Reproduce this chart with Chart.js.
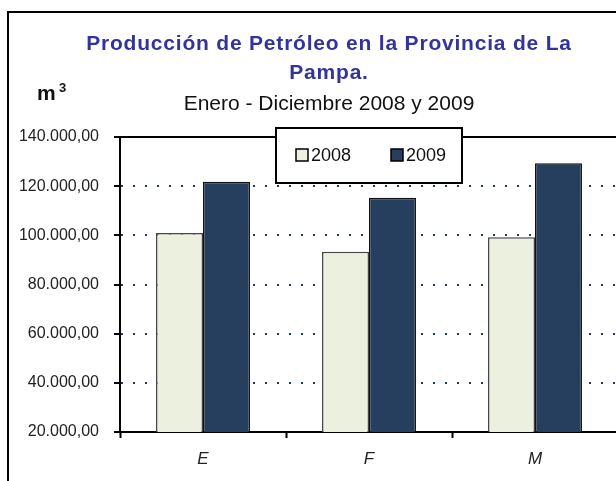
<!DOCTYPE html>
<html lang="es">
<head>
    <meta charset="UTF-8">
    <title>Producción de Petróleo - La Pampa</title>
    <script src="https://cdn.jsdelivr.net/npm/chart.js"></script>
    <style type="text/css">
    body {
    margin: 0;
    padding: 0;
    background: #fff;
    overflow: hidden;
    }
    #wrap {
    width: 620px;
    height: 481px;
    }
    </style>
</head>
<body>
<div id="wrap"><canvas id="chart" width="620" height="481"></canvas></div>

<script>
// data
const months = ['E', 'F', 'M'];
const years = ['2008', '2009'];
const prod2008 = [101000, 93300, 99200];
const prod2009 = [121800, 115300, 129300];
const yMin = 20000;
const yMax = 140000;
const yStep = 20000;
const titleLines = ['Producción de Petróleo en la Provincia de La', 'Pampa.'];
const subtitle = 'Enero - Diciembre 2008 y 2009';
const unitLabel = 'm';
const unitSup = '3';

const FONT = 'Arial, "Liberation Sans", sans-serif';

// 140000 -> 140.000,00
function fmtNum(v) {
    const s = Math.round(v).toString().replace(/\B(?=(\d{3})+(?!\d))/g, '.');
    return s + ',00';
}

const framePlugin = {
    id: 'frame',
    afterDraw(chart) {
        const c = chart.ctx;
        const a = chart.chartArea;
        c.save();
        c.strokeStyle = '#000';
        c.lineWidth = 2;

        // outer frame (left and top only, the rest is cut off)
        c.beginPath();
        c.moveTo(8, chart.height);
        c.lineTo(8, 12);
        c.lineTo(chart.width, 12);
        c.stroke();

        // top edge of plot area
        c.beginPath();
        c.moveTo(a.left, a.top);
        c.lineTo(a.right, a.top);
        c.stroke();

        // title
        c.textAlign = 'center';
        c.textBaseline = 'alphabetic';
        c.fillStyle = '#33339c';
        c.font = 'bold 21px ' + FONT;
        c.letterSpacing = '0.8px';
        c.fillText(titleLines[0], 329, 50);
        c.fillText(titleLines[1], 329, 79);
        c.letterSpacing = '0px';

        c.fillStyle = '#111';
        c.font = '21px ' + FONT;
        c.fillText(subtitle, 329, 110, 294);

        // m3
        c.textAlign = 'left';
        c.font = 'bold 21px ' + FONT;
        c.fillText(unitLabel, 37, 100);
        c.font = 'bold 13px ' + FONT;
        c.fillText(unitSup, 59, 92);

        // legend box
        const cx = (a.left + a.right) / 2;
        const bw = 186, bh = 55;
        const bx = cx - bw / 2, by = 128;
        c.fillStyle = '#fff';
        c.fillRect(bx, by, bw, bh);
        c.strokeRect(bx, by, bw, bh);

        c.font = '18px ' + FONT;
        c.textBaseline = 'middle';
        chart.data.datasets.forEach((ds, i) => {
            const sx = bx + 20 + i * 95;
            const sy = by + 21;
            c.fillStyle = ds.backgroundColor;
            c.fillRect(sx, sy, 12, 12);
            c.lineWidth = 1.5;
            c.strokeStyle = '#000';
            c.strokeRect(sx, sy, 12, 12);
            c.fillStyle = '#111';
            c.fillText(ds.label, sx + 15, sy + 7);
        });
        c.restore();
    }
};

const ctx = document.getElementById('chart').getContext('2d');

new Chart(ctx, {
    type: 'bar',
    data: {
        labels: months,
        datasets: [{
            label: years[0],
            data: prod2008,
            backgroundColor: '#ebf1de',
            borderColor: '#444',
            borderWidth: 1.5,
            categoryPercentage: 0.566,
            barPercentage: 1
        }, {
            label: years[1],
            data: prod2009,
            backgroundColor: '#263f5f',
            borderColor: '#111',
            borderWidth: 1.5,
            categoryPercentage: 0.566,
            barPercentage: 1
        }]
    },
    options: {
        responsive: false,
        animation: false,
        layout: {
            padding: { top: 137, left: 0, right: 2, bottom: 0 }
        },
        plugins: {
            legend: { display: false },
            title: { display: false },
            tooltip: { enabled: false }
        },
        scales: {
            x: {
                afterFit: s => { s.height = 49; },
                grid: {
                    display: true,
                    drawOnChartArea: false,
                    offset: true,
                    tickLength: 6,
                    tickWidth: 2,
                    tickColor: '#000'
                },
                border: { display: true, color: '#000', width: 2 },
                ticks: {
                    color: '#222',
                    padding: 11,
                    font: { family: FONT, size: 17, style: 'italic' }
                }
            },
            y: {
                min: yMin,
                max: yMax,
                afterFit: s => { s.width = 120; },
                grid: {
                    color: c => (c.tick && (c.tick.value === yMin || c.tick.value === yMax)) ? 'rgba(0,0,0,0)' : '#1f3b60',
                    lineWidth: 2,
                    tickLength: 6,
                    tickWidth: 2,
                    tickColor: '#000',
                    tickBorderDash: []
                },
                border: { display: true, color: '#000', width: 2, dash: [2, 10] },
                ticks: {
                    stepSize: yStep,
                    callback: v => fmtNum(v),
                    color: '#222',
                    padding: 15,
                    font: { family: FONT, size: 16 }
                }
            }
        }
    },
    plugins: [framePlugin]
});
</script>
</body>
</html>
